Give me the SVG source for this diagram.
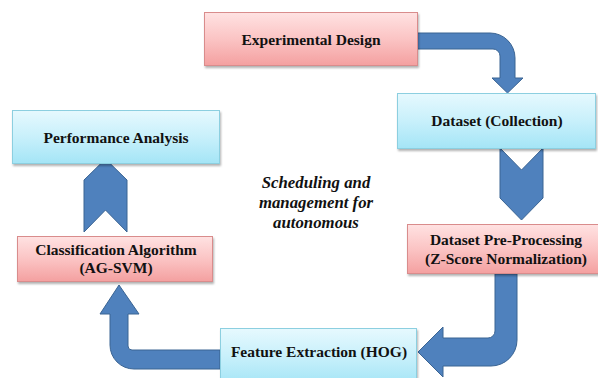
<svg xmlns="http://www.w3.org/2000/svg" width="598" height="378" viewBox="0 0 598 378">
  <defs>
    <linearGradient id="gradPink" x1="0" y1="0" x2="0" y2="1">
      <stop offset="0" stop-color="#ffe2e2"/>
      <stop offset="0.5" stop-color="#fbc4c4"/>
      <stop offset="1" stop-color="#f4a0a0"/>
    </linearGradient>
    <linearGradient id="gradBlue" x1="0" y1="0" x2="0" y2="1">
      <stop offset="0" stop-color="#e6f9fe"/>
      <stop offset="0.5" stop-color="#c8f0fb"/>
      <stop offset="1" stop-color="#a4e5f6"/>
    </linearGradient>
    <filter id="shadow" x="-10%" y="-10%" width="120%" height="130%">
      <feDropShadow dx="1" dy="2" stdDeviation="1.3" flood-color="#000" flood-opacity="0.3"/>
    </filter>
  </defs>
  <style>
    .pink { fill: url(#gradPink); stroke: #d98c8c; stroke-width: 1; filter: url(#shadow); }
    .blue { fill: url(#gradBlue); stroke: #8ccfe0; stroke-width: 1; filter: url(#shadow); }
    text { font-family: 'Liberation Serif', 'Times New Roman', 'DejaVu Serif', serif; font-weight: bold; font-size: 15.5px; fill: #111111; text-anchor: middle; }
    .note { font-style: italic; font-size: 16.8px; }
    .arrow { fill: #4f81bd; stroke: #3a6493; stroke-width: 1; stroke-linejoin: miter; }
  </style>

  <rect width="598" height="378" fill="#ffffff"/>

  <!-- connectors -->
  <g id="connectors">
    <!-- bent arrow: Experimental Design to Dataset (Collection) -->
    <path class="arrow" d="M417,33 H490 A25,25 0 0 1 515,58 V78 H523 L507.5,93 L492,78 H500 V56 A7,7 0 0 0 493,49 H417 Z"/>
    <!-- chevron: Dataset (Collection) to Pre-Processing -->
    <path class="arrow" d="M500,148 L521.5,170 L543,148 V198 L521.5,220 L500,198 Z"/>
    <!-- bent arrow: Pre-Processing to Feature Extraction -->
    <path class="arrow" d="M517,274 V340 A26,26 0 0 1 491,366 H443 V377 L418,352 L443,327 V338 H488 A7,7 0 0 0 495,331 V274 Z"/>
    <!-- bent arrow: Feature Extraction to Classification Algorithm -->
    <path class="arrow" d="M220,350 H132 A4,4 0 0 1 128,346 V314 H139 L119,285 L100,314 H110 V345 A24,24 0 0 0 134,369 H220 Z"/>
    <!-- chevron: Classification Algorithm to Performance Analysis -->
    <path class="arrow" d="M84,180 L105.5,159 L127,180 V232 L105.5,210 L84,232 Z"/>
  </g>

  <g id="experimental-design">
    <rect class="pink" x="204.5" y="12.5" width="213" height="53"/>
    <text x="311" y="45">Experimental Design</text>
  </g>

  <g id="dataset-collection">
    <rect class="blue" x="397.5" y="93.5" width="198" height="55"/>
    <text x="497" y="126">Dataset (Collection)</text>
  </g>

  <g id="dataset-preprocessing">
    <rect class="pink" x="407.5" y="224.5" width="200" height="49"/>
    <text x="506" y="245">Dataset Pre-Processing</text>
    <text x="506" y="264">(Z-Score Normalization)</text>
  </g>

  <g id="feature-extraction">
    <rect class="blue" x="220.5" y="328.5" width="196" height="56"/>
    <text x="319" y="357">Feature Extraction (HOG)</text>
  </g>

  <g id="classification-algorithm">
    <rect class="pink" x="17.5" y="236.5" width="195" height="45"/>
    <text x="116" y="255">Classification Algorithm</text>
    <text x="116" y="273">(AG-SVM)</text>
  </g>

  <g id="performance-analysis">
    <rect class="blue" x="12.5" y="110.5" width="207" height="53"/>
    <text x="116" y="143">Performance Analysis</text>
  </g>

  <g id="center-note">
    <text class="note" x="316" y="188">Scheduling and</text>
    <text class="note" x="316" y="208">management for</text>
    <text class="note" x="316" y="228">autonomous</text>
  </g>
</svg>
